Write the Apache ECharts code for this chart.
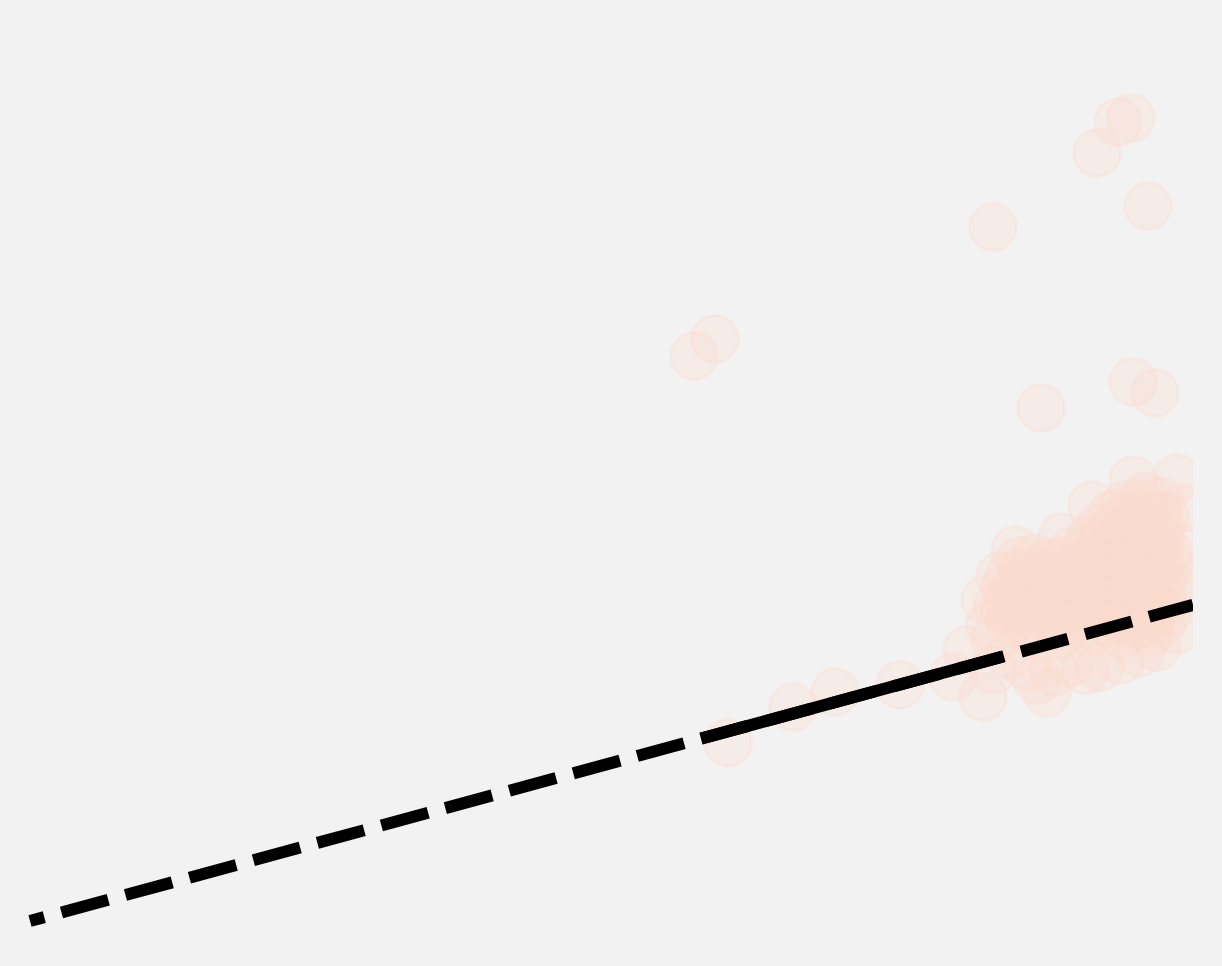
<!DOCTYPE html>
<html>
<head>
<meta charset="utf-8">
<script src="https://cdn.jsdelivr.net/npm/echarts@6/dist/echarts.min.js"></script>
<style>
  html, body { margin: 0; padding: 0; background: #f2f2f2; }
  #chart { width: 1222px; height: 966px; }
</style>
</head>
<body>
<div id="chart"></div>
<script>
// scattered outliers, upper part of the plot
const outlierPoints = [
  [110.1, 80.8], [108.8, 80.4], [106.7, 77.3], [111.8, 72.0], [96.3, 69.9],
  [68.5, 58.7], [66.4, 57.0], [110.3, 54.4], [112.5, 53.3], [101.1, 51.8]
];

// points trailing off to the lower left along the fit
const tailPoints = [
  [69.8, 18.3], [76.3, 21.9], [80.5, 23.4], [87.0, 24.1], [92.3, 24.9],
  [93.7, 27.6], [95.3, 22.9], [96.3, 25.6]
];

// lighter points around the rim of the main cluster
const rimPoints = [
  [98.5, 37.6], [103.2, 38.9], [106.2, 42.1], [110.3, 44.6], [114.7, 44.8],
  [115.3, 41.8], [115.2, 37.8], [115.8, 33.8], [114.7, 29.6], [112.7, 27.9],
  [111.0, 27.3], [109.0, 26.6], [107.0, 25.9], [105.5, 25.6], [104.0, 26.3],
  [102.5, 25.4], [101.7, 23.3], [100.7, 24.6], [99.7, 25.9], [98.0, 27.1],
  [95.5, 32.6], [96.0, 30.1], [96.5, 28.6]
];

// dense core of the cluster
const corePoints = [
  [109.5, 42.1], [111.0, 42.3], [111.5, 43.0], [113.0, 42.5], [113.5, 41.0],
  [108.2, 41.1], [109.8, 40.9], [111.5, 41.2], [112.8, 41.0],
  [107.0, 39.9], [108.5, 40.1], [110.0, 39.8], [111.5, 40.0], [113.0, 39.7],
  [106.0, 38.7], [107.4, 38.9], [108.8, 38.6], [110.2, 38.8], [111.6, 38.5], [113.0, 38.7],
  [104.2, 37.5], [105.6, 37.7], [107.0, 37.4], [108.4, 37.6], [109.8, 37.3], [111.2, 37.5],
  [112.6, 37.6], [113.8, 37.4], [100.5, 36.8], [99.0, 36.5],
  [101.8, 36.3], [103.2, 36.5], [104.6, 36.2], [106.0, 36.4], [107.4, 36.1], [108.8, 36.3],
  [110.2, 36.5], [111.6, 36.2], [113.0, 36.3], [114.0, 36.1],
  [97.0, 35.0], [98.0, 35.1], [99.4, 35.3], [100.8, 35.0], [102.2, 35.2], [103.6, 34.9],
  [105.0, 35.1], [106.4, 35.3], [107.8, 35.0], [109.2, 35.2], [110.6, 34.9], [112.0, 35.1],
  [113.4, 35.2],
  [97.5, 33.9], [98.9, 34.1], [100.3, 33.8], [101.7, 34.0], [103.1, 33.7], [104.5, 33.9],
  [105.9, 34.1], [107.3, 33.8], [108.7, 34.0], [110.1, 33.7], [111.5, 33.9], [112.9, 34.1],
  [114.0, 33.8],
  [97.8, 32.7], [99.2, 32.9], [100.6, 32.6], [102.0, 32.8], [103.4, 32.5], [104.8, 32.7],
  [106.2, 32.9], [107.6, 32.6], [109.0, 32.8], [110.4, 32.5], [111.8, 32.7], [113.2, 32.9],
  [96.8, 32.0],
  [97.5, 31.5], [98.9, 31.7], [100.3, 31.4], [101.7, 31.6], [103.1, 31.3], [104.5, 31.5],
  [105.9, 31.7], [107.3, 31.4], [108.7, 31.6], [110.1, 31.3], [111.5, 31.5], [112.9, 31.7],
  [113.8, 31.4],
  [98.0, 30.3], [99.4, 30.5], [100.8, 30.2], [102.2, 30.4], [103.6, 30.1], [105.0, 30.3],
  [106.4, 30.5], [107.8, 30.2], [109.2, 30.4], [110.6, 30.1], [112.0, 30.3], [113.2, 30.5],
  [100.0, 29.3], [103.0, 29.1], [106.0, 29.4], [109.0, 29.2], [112.0, 29.3]
];

// fitted line: full extent (dashed) and the fitted range (solid)
const fitLine = [[0, 0.5], [116.3, 32.11]];
const fitRange = [[67.1, 18.74], [97.2, 26.92]];

const allPoints = outlierPoints.concat(tailPoints, rimPoints, corePoints);

const chart = echarts.init(document.getElementById('chart'), null, { renderer: 'canvas' });

chart.setOption({
  backgroundColor: '#f2f2f2',
  animation: false,
  grid: { left: 30, right: 29, top: 26, bottom: 40 },
  xAxis: { type: 'value', min: 0, max: 116.3, show: false, splitLine: { show: false } },
  yAxis: { type: 'value', min: 0, max: 90, show: false, splitLine: { show: false } },
  series: [
    {
      type: 'scatter',
      data: allPoints,
      symbolSize: 47,
      clip: true,
      itemStyle: {
        color: '#fcdacd',
        borderColor: '#fcdacd',
        borderWidth: 3,
        opacity: 0.3
      },
      z: 1
    },
    {
      type: 'line',
      data: fitLine,
      symbol: 'none',
      lineStyle: { color: '#000', width: 12, type: [48.5, 17.8], dashOffset: 33.7, cap: 'butt' },
      z: 2
    },
    {
      type: 'line',
      data: fitRange,
      symbol: 'none',
      lineStyle: { color: '#000', width: 12, type: 'solid', cap: 'butt' },
      z: 3
    }
  ]
});

// the plot area clips the markers at its right edge: cover the strip past it
const gridRight = chart.convertToPixel({ gridIndex: 0 }, [116.3, 0])[0];
chart.setOption({
  graphic: [{
    type: 'rect',
    left: gridRight,
    top: 0,
    shape: { width: 1222 - gridRight, height: 966 },
    style: { fill: '#f2f2f2' },
    z: 10
  }]
});
</script>
</body>
</html>
